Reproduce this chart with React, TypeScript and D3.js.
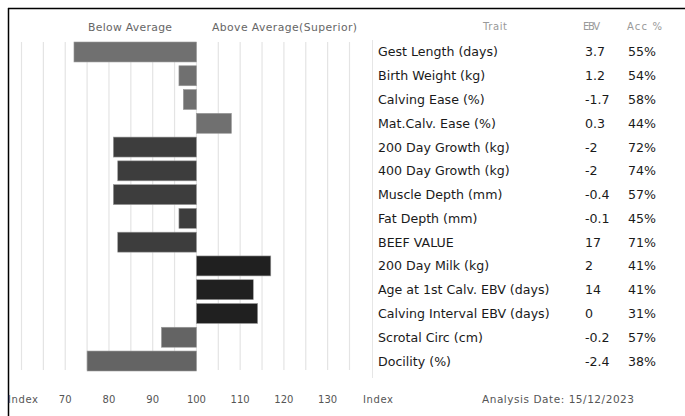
import React from "react";
import * as d3 from "d3";

const traits = [
  "Gest Length (days)",
  "Birth Weight (kg)",
  "Calving Ease (%)",
  "Mat.Calv. Ease (%)",
  "200 Day Growth (kg)",
  "400 Day Growth (kg)",
  "Muscle Depth (mm)",
  "Fat Depth (mm)",
  "BEEF VALUE",
  "200 Day Milk (kg)",
  "Age at 1st Calv. EBV (days)",
  "Calving Interval EBV (days)",
  "Scrotal Circ (cm)",
  "Docility (%)",
];
const indexValues = [72, 96, 97, 108, 81, 82, 81, 96, 82, 117, 113, 114, 92, 75];
const ebvs = ["3.7", "1.2", "-1.7", "0.3", "-2", "-2", "-0.4", "-0.1", "17", "2", "14", "0", "-0.2", "-2.4"];
const accs = ["55%", "54%", "58%", "44%", "72%", "74%", "57%", "45%", "71%", "41%", "41%", "31%", "57%", "38%"];
const groups = ["a", "a", "a", "a", "b", "b", "b", "b", "b", "c", "c", "c", "d", "d"];
const axisTicks = [70, 80, 90, 100, 110, 120, 130];
const gridTicks = d3.range(60, 136, 5);

const groupColor: Record<string, string> = {
  a: "#707070",
  b: "#3d3d3d",
  c: "#202020",
  d: "#646464",
};

export default function App() {
  const W = 685;
  const H = 416;
  const x = d3.scaleLinear().domain([60, 135]).range([21.5, 349.5]);
  const y = d3
    .scaleBand<string>()
    .domain(traits)
    .range([40.1, 372.9])
    .paddingInner(0.16)
    .paddingOuter(0.08);
  const bw = y.bandwidth();
  const small = "'DejaVu Sans', sans-serif";
  const tableFont = "'DejaVu Sans', sans-serif";
  return (
    <svg
      width={W}
      height={H}
      style={{ position: "absolute", left: 0, top: 0, background: "#fff" }}
    >
      <rect x={0} y={0} width={W} height={H} fill="#fff" />
      <line x1={8} x2={W} y1={8.5} y2={8.5} stroke="#000" strokeWidth={1.5} />
      <line x1={8.5} x2={8.5} y1={8} y2={H} stroke="#000" strokeWidth={1.5} />

      {gridTicks.map((t) => (
        <line
          key={t}
          x1={x(t)}
          x2={x(t)}
          y1={42}
          y2={370}
          stroke="#e4e4e4"
          strokeWidth={1.2}
        />
      ))}

      {traits.map((t, i) => {
        const v = indexValues[i];
        const x0 = x(Math.min(v, 100));
        const x1 = x(Math.max(v, 100));
        return (
          <rect
            key={t}
            x={x0}
            y={y(t)!}
            width={x1 - x0}
            height={bw}
            fill={groupColor[groups[i]]}
            stroke="#9a9a9a"
            strokeWidth={0.6}
          />
        );
      })}

      <text x={130} y={31} fontFamily={small} fontSize={10.8} fill="#666" textAnchor="middle" textLength={84}>
        Below Average
      </text>
      <text x={284.5} y={31} fontFamily={small} fontSize={10.8} fill="#666" textAnchor="middle" textLength={145}>
        Above Average(Superior)
      </text>

      <text x={23} y={403} fontFamily={small} fontSize={10} fill="#555" textAnchor="middle" textLength={30}>
        Index
      </text>
      {axisTicks.map((t) => (
        <text key={t} x={x(t)} y={403} fontFamily={small} fontSize={10} fill="#555" textAnchor="middle">
          {t}
        </text>
      ))}
      <text x={378} y={403} fontFamily={small} fontSize={10} fill="#555" textAnchor="middle" textLength={30}>
        Index
      </text>
      <text x={482} y={403} fontFamily={small} fontSize={10.5} fill="#555" textLength={152}>
        Analysis Date: 15/12/2023
      </text>

      <line x1={372.5} x2={372.5} y1={40} y2={378} stroke="#e6e6e6" strokeWidth={1} />

      <text x={495} y={30} fontFamily={small} fontSize={10} fill="#999" textAnchor="middle" textLength={24}>
        Trait
      </text>
      <text x={591.5} y={30} fontFamily={small} fontSize={10} fill="#999" textAnchor="middle" textLength={17}>
        EBV
      </text>
      <text x={644.5} y={30} fontFamily={small} fontSize={10} fill="#999" textAnchor="middle" textLength={35}>
        Acc %
      </text>

      {traits.map((t, i) => {
        const cy = y(t)! + bw / 2 + 4.5;
        return (
          <g key={t} fontFamily={tableFont} fontSize={12.6} fill="#1a1a1a">
            <text x={378} y={cy}>{t}</text>
            <text x={585} y={cy}>{ebvs[i]}</text>
            <text x={628} y={cy}>{accs[i]}</text>
          </g>
        );
      })}
    </svg>
  );
}
